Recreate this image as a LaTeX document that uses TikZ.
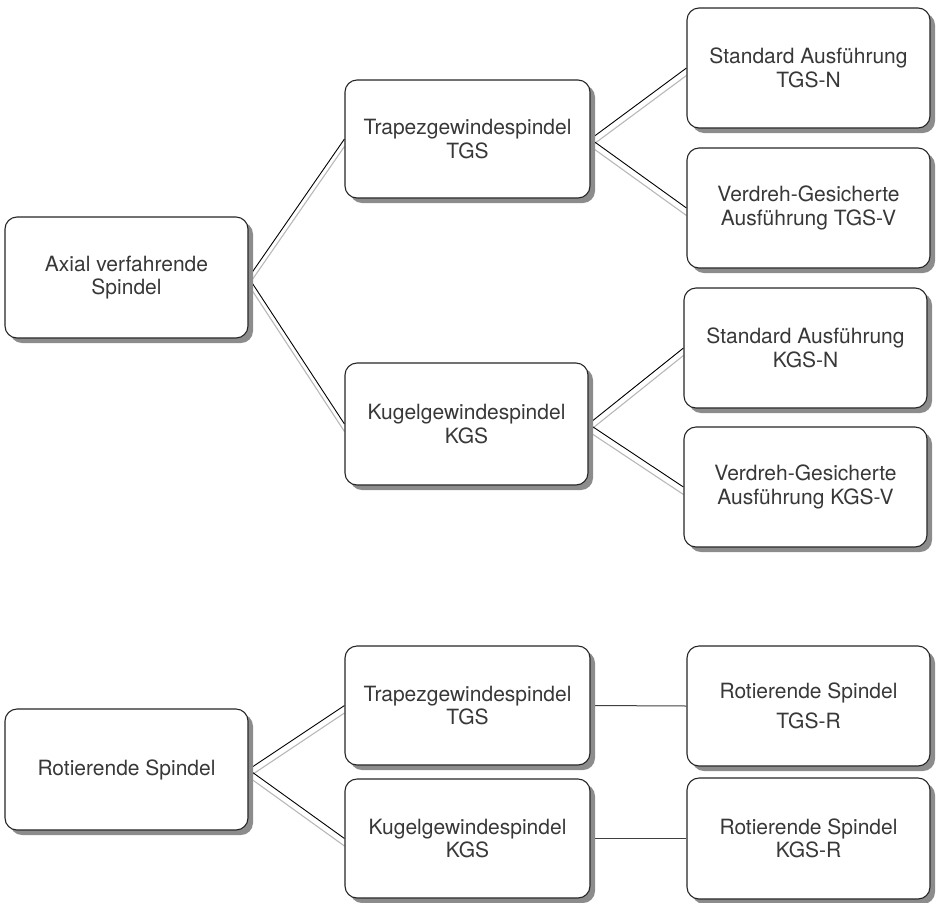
\documentclass[tikz,border=0pt]{standalone}
\usepackage{fontspec}
\setmainfont{TeX Gyre Heros}
\usetikzlibrary{shadows,backgrounds}
\tikzset{
  box/.style={draw=black!85, line width=1.1pt, rounded corners=12pt, fill=white,
    align=center, inner sep=0pt, text=black!78,
    font=\fontsize{21}{23.5}\selectfont,
    drop shadow={shadow xshift=5pt, shadow yshift=-5pt, fill=black!45, opacity=1}},
  link/.style={draw=black, line width=0.9pt},
  linkshadow/.style={draw=black!28, line width=1.1pt, transform canvas={yshift=-7.5pt}},
  flat/.style={draw=black!75, line width=1pt}
}
\newcommand{\mybox}[6]{%
  \node[box, minimum width={#4-#2}, minimum height={#5-#3}] (#1) at ({(#2+#4)/2},{(#3+#5)/2}) {#6};}
\begin{document}
\begin{tikzpicture}[x=1pt,y=-1pt]
\useasboundingbox (0,0) rectangle (938,903);
\mybox{A}{5}{217}{248}{338}{Axial verfahrende\\Spindel}
\mybox{T1}{345}{80}{590}{198}{Trapezgewindespindel\\TGS}
\mybox{K1}{345}{363}{588}{485}{Kugelgewindespindel\\KGS}
\mybox{TN}{687}{8}{930}{128}{Standard Ausführung\\TGS-N}
\mybox{TV}{687}{148}{930}{268}{Verdreh-Gesicherte\\Ausführung TGS-V}
\mybox{KN}{684}{288}{927}{408}{Standard Ausführung\\KGS-N}
\mybox{KV}{684}{427}{927}{547}{Verdreh-Gesicherte\\Ausführung KGS-V}
\mybox{R}{5}{709}{248}{830}{Rotierende Spindel}
\mybox{T2}{345}{646}{590}{765}{Trapezgewindespindel\\TGS}
\mybox{K2}{345}{779}{590}{898}{Kugelgewindespindel\\KGS}
\mybox{TR}{687}{646}{930}{766}{Rotierende Spindel\\[7pt]TGS-R}
\mybox{KR}{687}{778}{930}{899}{Rotierende Spindel\\KGS-R}
\begin{scope}[on background layer]
  \foreach \a/\b in {A/T1,A/K1,T1/TN,T1/TV,K1/KN,K1/KV,R/T2,R/K2}{
    \draw[linkshadow] (\a.east) -- (\b.west);
    \draw[link] (\a.east) -- (\b.west);
  }
  \draw[flat] (T2.east) -- (TR.west);
  \draw[flat] (K2.east) -- (KR.west);
\end{scope}
\end{tikzpicture}
\end{document}
